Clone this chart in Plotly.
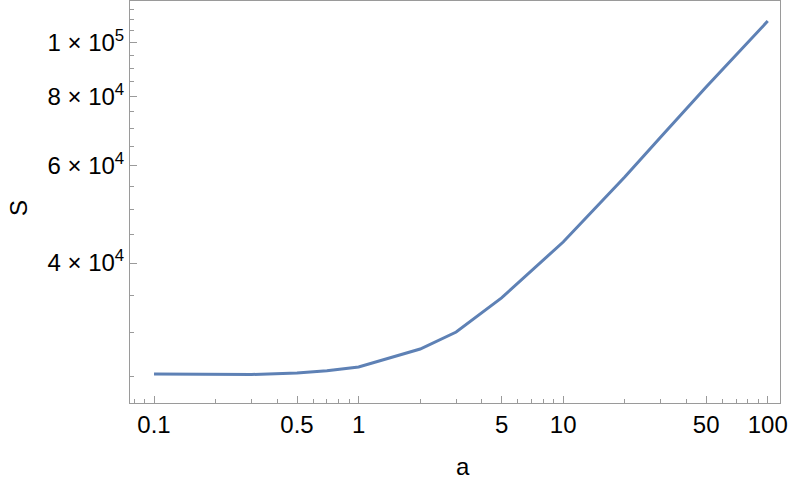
import plotly.graph_objects as go

# data (log-log)
a_vals = [0.1, 0.2, 0.3, 0.5, 0.7, 1, 2, 3, 4, 5, 10, 20, 30, 50, 100]
s_vals = [25210, 25160, 25160, 25320, 25550, 25950, 27970, 30020, 32490,
          34600, 43650, 57220, 67550, 83180, 109400]

x_major = [0.1, 0.5, 1, 5, 10, 50, 100]
x_major_text = ["0.1", "0.5", "1", "5", "10", "50", "100"]
x_minor = [0.08, 0.09, 0.2, 0.3, 0.4, 0.6, 0.7, 0.8, 0.9,
           2, 3, 4, 6, 7, 8, 9, 20, 30, 40, 60, 70, 80, 90]

y_major = [40000, 60000, 80000, 100000]
y_major_text = ["4 × 10<sup>4</sup>", "6 × 10<sup>4</sup>",
                "8 × 10<sup>4</sup>", "1 × 10<sup>5</sup>"]
y_minor = [25000, 30000, 35000, 45000, 50000, 55000, 65000, 70000, 75000,
           85000, 90000, 95000, 105000, 110000, 115000]

FRAME = "#9a9a9a"
FONT = dict(family="Liberation Sans, Arial, sans-serif", size=24, color="black")

W, H = 789, 482
L, R, T, B = 130, 9, 1, 79
pw, ph = W - L - R, H - T - B

fig = go.Figure()
fig.add_trace(go.Scatter(
    x=a_vals, y=s_vals, mode="lines",
    line=dict(color="#5e81b5", width=3),
    showlegend=False,
))

axis_common = dict(
    type="log", showgrid=False, zeroline=False, automargin=False,
    showline=True, linecolor=FRAME, linewidth=1, mirror=True,
    ticks="inside", tickcolor=FRAME, ticklen=7, tickwidth=1,
    tickfont=FONT, ticklabeloverflow="allow",
)

fig.update_xaxes(
    **axis_common,
    range=[-1.1174, 2.060],
    tickmode="array", tickvals=x_major, ticktext=x_major_text,
    minor=dict(tickmode="array", tickvals=x_minor, ticks="inside",
               ticklen=4, tickcolor=FRAME, tickwidth=1),
)
fig.update_yaxes(
    **axis_common,
    range=[4.3492, 5.0753],
    tickmode="array", tickvals=y_major, ticktext=y_major_text,
    minor=dict(tickmode="array", tickvals=y_minor, ticks="inside",
               ticklen=4, tickcolor=FRAME, tickwidth=1),
)

# axis labels, placed at pixel positions of the reference
fig.add_annotation(text="a", x=(463 - L) / pw, y=(H - B - 466) / ph,
                   xref="paper", yref="paper", showarrow=False, font=FONT,
                   xanchor="center", yanchor="middle")
fig.add_annotation(text="S", x=(18 - L) / pw, y=(H - B - 208) / ph,
                   xref="paper", yref="paper", showarrow=False,
                   textangle=-90, font=FONT,
                   xanchor="center", yanchor="middle")

fig.update_layout(
    width=W, height=H,
    margin=dict(l=L, r=R, t=T, b=B),
    plot_bgcolor="white", paper_bgcolor="white",
    font=FONT,
)

# page body has a default 8px margin; drop it so the figure sits at 0,0
fig.write_html("out.html", config={"displayModeBar": False},
               post_script="document.body.style.margin='0';")
